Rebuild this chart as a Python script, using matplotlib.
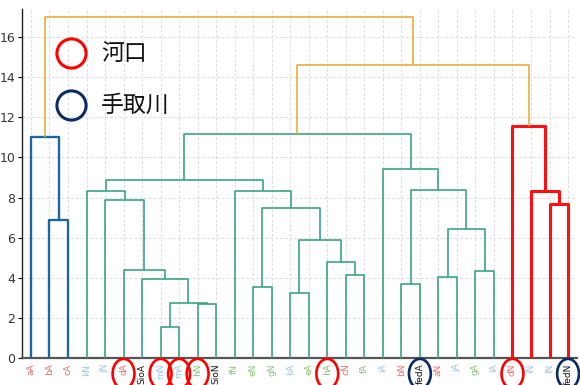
#!/usr/bin/env python3
import matplotlib
matplotlib.use("Agg")
import matplotlib.pyplot as plt
from matplotlib.patches import Ellipse
from matplotlib.lines import Line2D

# Leaves in display order
LEAVES = ["aA", "bA", "cA", "kN", "jN", "dA", "SioA", "mN", "mA", "hN",
          "SioN", "fN", "eN", "gN", "kA", "eA", "hA", "cN", "fA", "iA",
          "bN", "fedA", "aN", "jA", "gA", "lA", "dN", "iN", "lN", "fedN"]

# Merges (scipy-like): ids >= len(LEAVES) refer to earlier merges
MERGE_LEFT = [1, 0, 7, 9, 32, 6, 5, 4, 3, 12, 14, 17, 16, 40, 39, 11, 38,
              20, 22, 24, 48, 47, 19, 46, 28, 27, 26, 53, 31]
MERGE_RIGHT = [2, 30, 8, 10, 33, 34, 35, 36, 37, 13, 15, 18, 41, 42, 43, 44, 45,
               21, 23, 25, 49, 50, 51, 52, 29, 54, 55, 56, 57]
MERGE_HEIGHT = [6.9, 11.0, 1.53, 2.70, 2.75, 3.93, 4.41, 7.86, 8.31, 3.52, 3.22,
                4.16, 4.79, 5.90, 7.50, 8.33, 8.89, 3.71, 4.05, 4.34, 6.42, 8.39,
                9.44, 11.18, 7.70, 8.31, 11.59, 14.63, 17.0]
MERGE_GROUP = ["blue"] * 2 + ["green"] * 22 + ["red"] * 3 + ["top"] * 2

RIVER_MOUTH = ["dA", "mN", "mA", "hN", "hA", "dN"]   # 河口
TEDORI = ["fedA", "fedN"]                             # 手取川

LINK_STYLE = {
    "blue": ("#1f65a0", 1.7),
    "green": ("#3aa486", 1.2),
    "red": ("#ff1010", 2.2),
    "top": ("#e8ae3c", 1.2),
}

def label_color(name):
    if name.startswith(("fed", "Sio")):
        return "#111111"
    c = name[0]
    if c in "abcd":
        return "#f26b6b"
    if c in "efgh":
        return "#86c473"
    return "#9ec3ea"

plt.rcParams["font.family"] = ["DejaVu Sans", "Noto Sans CJK JP"]

fig = plt.figure(figsize=(5.8, 3.85), dpi=100)
ax = fig.add_axes([21.7 / 580, 1 - 358 / 385, (577.3 - 21.7) / 580, 349 / 385])

n = len(LEAVES)
pos = {i: 5 + 10 * i for i in range(n)}
hgt = {i: 0.0 for i in range(n)}
for k, (a, b, h, g) in enumerate(zip(MERGE_LEFT, MERGE_RIGHT, MERGE_HEIGHT, MERGE_GROUP)):
    xa, xb = pos[a], pos[b]
    col, lw = LINK_STYLE[g]
    ax.plot([xa, xa, xb, xb], [hgt[a], h, h, hgt[b]], color=col, lw=lw,
            solid_capstyle="butt", zorder=3)
    pos[n + k] = (xa + xb) / 2
    hgt[n + k] = h

ax.set_xlim(0, 10 * n)
ax.set_ylim(0, 17.4)
ticks = [5 + 10 * i for i in range(n)]
ax.set_xticks(ticks)
ax.set_xticklabels(LEAVES, rotation=90, fontsize=6.5)
for t, name in zip(ax.get_xticklabels(), LEAVES):
    t.set_color(label_color(name))
ax.set_yticks(range(0, 17, 2))
ax.tick_params(axis="y", labelsize=9, labelcolor="#333333", length=3, width=0.8, pad=1.5)
ax.tick_params(axis="x", length=0, pad=4)
ax.grid(True, color="#dcdcdc", lw=0.7, ls=(0, (3, 2)))
ax.set_axisbelow(True)
for s in ["top", "right"]:
    ax.spines[s].set_visible(False)
ax.spines["left"].set_color("#222222")
ax.spines["left"].set_linewidth(1.0)
ax.spines["bottom"].set_color("#555555")
ax.spines["bottom"].set_linewidth(1.6)

# circles around the labels of sampling sites
xt = ax.get_xaxis_transform()
for names, col in [(RIVER_MOUTH, "#ff0000"), (TEDORI, "#0b2a66")]:
    for name in names:
        i = LEAVES.index(name)
        ax.add_patch(Ellipse((ticks[i], -0.045), width=11.8, height=0.085,
                             transform=xt, fill=False, edgecolor=col, lw=1.9,
                             clip_on=False, zorder=5))

# legend
for y, col, txt in [(53, "#ff0000", "河口"), (105, "#0b2a66", "手取川")]:
    fig.add_artist(Line2D([71 / 580], [1 - y / 385], marker="o", ms=21,
                          mfc="none", mec=col, mew=2.2,
                          transform=fig.transFigure))
    fig.text(101 / 580, 1 - y / 385, txt, fontsize=16.5, va="center", ha="left",
             family=["Noto Sans CJK JP", "DejaVu Sans"], color="#111111")

fig.savefig("out.png", dpi=100)
